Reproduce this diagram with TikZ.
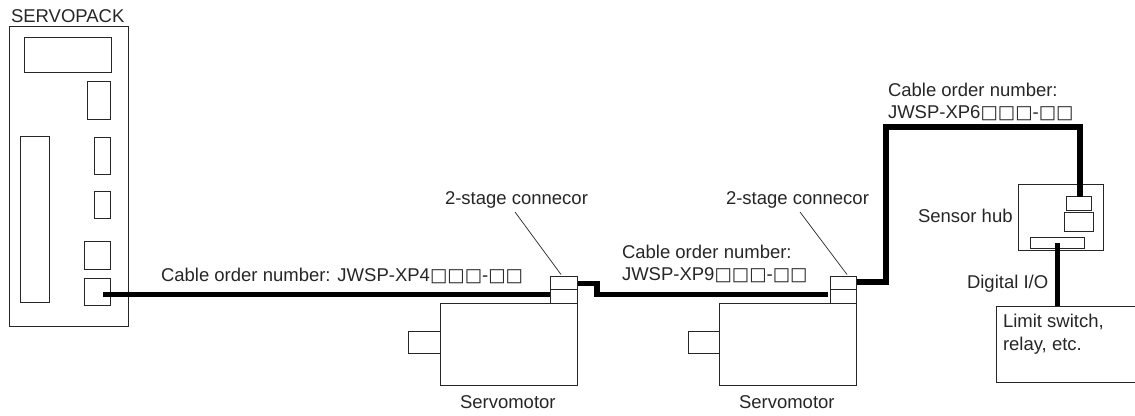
\documentclass[tikz,border=0pt]{standalone}
\usepackage{fontspec}
\setmainfont{Liberation Sans}
\newfontfamily\sqfont{DejaVu Sans}
\newcommand{\sqs}[1]{{\sqfont\fontsize{18.4}{22}\selectfont #1}}
\newcommand{\bx}[5]{%
  \pgfmathsetmacro{\bxw}{#4-#2}\pgfmathsetmacro{\bxh}{#5-#3}%
  \pgfmathsetmacro{\bxx}{(#2+#4)/2}\pgfmathsetmacro{\bxy}{(#3+#5)/2}%
  \node[part,minimum width=\bxw pt,minimum height=\bxh pt] (#1) at (\bxx,\bxy) {};}
\tikzset{
  part/.style={draw=black!85,line width=0.9pt,inner sep=0pt,outer sep=0pt,fill=white},
  cable/.style={line width=5.4pt,black,line cap=butt,line join=miter},
  leader/.style={line width=0.7pt,black!85},
  lbl/.style={anchor=base west,inner sep=0pt,outer sep=0pt,text=black!85,font=\fontsize{18.5}{22}\selectfont}
}
\begin{document}
\begin{tikzpicture}[x=1pt,y=-1pt]
\useasboundingbox (0,0) rectangle (1135,415);
\begin{scope}
\clip (0,0) rectangle (1135,415);
% SERVOPACK
\bx{sp}{9}{26}{128}{326}
\bx{spdisp}{24}{37}{111}{72}
\bx{spa}{87}{81}{110}{119}
\bx{spb}{94}{137}{110}{174}
\bx{spc}{94}{191}{110}{218}
\bx{spd}{84}{241}{110}{269}
\bx{spe}{84}{278}{110}{305}
\bx{spf}{20}{136}{49}{302}
\node[lbl] (tsp) at (11,22) {SERVOPACK};
% Motors
\bx{ma}{440}{303}{577}{385}
\bx{mashaft}{408}{331}{440}{353}
\bx{caa}{550}{276}{577}{289}
\bx{cab}{550}{289}{577}{303}
\bx{mb}{719}{303}{856}{385}
\bx{mbshaft}{688}{331}{719}{353}
\bx{cba}{830}{276}{856}{289}
\bx{cbb}{830}{289}{856}{303}
% Hub
\bx{hub}{1018}{184}{1103}{250}
\bx{hubb}{1064}{212}{1093}{231}
\bx{huba}{1066}{196}{1091}{210}
\bx{hubs}{1030}{237}{1084}{248}
% Limit box (runs off the right edge)
\bx{lim}{996}{306}{1140}{382}
% coordinates
\coordinate (k1) at (103,294.5);
\coordinate (k2) at (578,283.5);
\coordinate (k3) at (597,283.5);
\coordinate (k4) at (597,294.5);
\coordinate (k5) at (828,294.5);
\coordinate (k6) at (857,282);
\coordinate (k7) at (886,282);
\coordinate (k8) at (886,127);
\coordinate (k9) at (1080,127);
\coordinate (k10) at (1080,197);
\coordinate (k11) at (1057.5,243);
\coordinate (k12) at (1057.5,306);
\coordinate (la1) at (515,212);
\coordinate (la2) at (561,274.5);
\coordinate (lb1) at (800,212);
\coordinate (lb2) at (847,274.5);
% cables
\draw[cable] (k1) -- (cab.west |- k1);
\draw[cable] (k2) -- (k3) -- (k4) -- (k5);
\draw[cable] (k6) -- (k7) -- (k8) -- (k9) -- (k10);
\draw[cable] (k11) -- (k12);
\draw[leader] (la1) -- (la2);
\draw[leader] (lb1) -- (lb2);
% labels
\node[lbl] (t1) at (161,281) {Cable order number: JWSP-XP4\sqs{□□□}-\sqs{□□}};
\node[lbl] (t2) at (445,204) {2-stage connecor};
\node[lbl] (t3) at (726,204) {2-stage connecor};
\node[lbl] (t4) at (622,258) {Cable order number:};
\node[lbl] (t5) at (622,280) {JWSP-XP9\sqs{□□□}-\sqs{□□}};
\node[lbl] (t6) at (888,96) {Cable order number:};
\node[lbl] (t7) at (888,118) {JWSP-XP6\sqs{□□□}-\sqs{□□}};
\node[lbl] (t8) at (918,222) {Sensor hub};
\node[lbl] (t9) at (967,288) {Digital I/O};
\node[lbl] (t10) at (1003,327) {Limit switch,};
\node[lbl] (t11) at (1003,350) {relay, etc.};
\node[lbl] (t12) at (460,408) {Servomotor};
\node[lbl] (t13) at (739,408) {Servomotor};
\end{scope}
\end{tikzpicture}
\end{document}
